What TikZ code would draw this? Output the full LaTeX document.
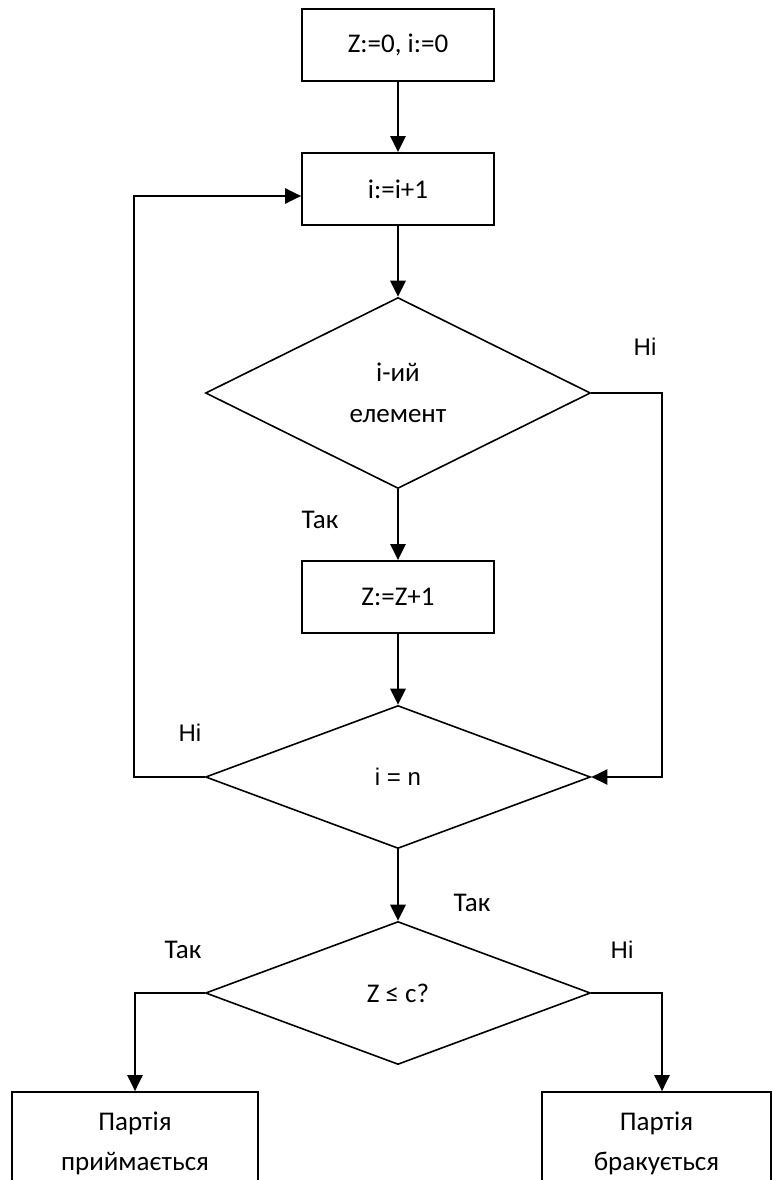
\documentclass[tikz,border=0pt]{standalone}
\usepackage{fontspec}
\setmainfont{Carlito}
\newfontfamily\arialfont{Liberation Sans}
\usetikzlibrary{shapes.geometric,arrows.meta}

\begin{document}
\begin{tikzpicture}[x=1pt, y=-1pt,
    block/.style={rectangle, draw=black, line width=1.7pt, minimum width=192pt, minimum height=72pt, inner sep=0pt, align=center, font=\fontsize{27}{40}\selectfont},
    cond/.style={diamond, draw=black, line width=1.6pt, minimum width=385pt, inner sep=0pt, align=center, font=\fontsize{27}{41}\selectfont},
    bus/.style={-{Triangle[length=16pt, width=15pt]}, line width=2.8pt},
    side/.style={-{Triangle[length=16pt, width=15pt]}, line width=2.2pt},
    labelnode/.style={font=\fontsize{27}{32}\selectfont, inner sep=0pt},
    labelni/.style={font=\arialfont\fontsize{24}{28}\selectfont, inner sep=0pt}
]
\clip (0,0) rectangle (773,1180);

% Main column (x = 398)
\node[block] (start) at (398, 45)  {Z:=0, i:=0};
\node[block] (inc)   at (398, 189) {i:=i+1};
\node[cond, minimum height=191pt] (check) at (398, 393) {і-ий\\елемент};
\node[block] (count) at (398, 597) {Z:=Z+1};
\node[cond, minimum height=143pt, font=\arialfont\fontsize{24}{28}\selectfont] (last) at (398, 777) {i = n};
\node[cond, minimum height=143pt] (limit) at (398, 993) {Z ≤ c?};

% Result boxes (bottom is cut by the page)
\node[block, minimum width=246pt, minimum height=102pt] (accept) at (135, 1143) {Партія\\приймається};
\node[block, minimum width=229pt, minimum height=102pt] (reject) at (656.5, 1143) {Партія\\бракується};

% Side rails
\coordinate (rside) at (662, 0);
\coordinate (loop)  at (134, 196);

% Branch labels
\node[labelni]   (niA)  at (645, 347) {Ні};
\node[labelnode] (takA) at (320, 520) {Так};
\node[labelni]   (niB)  at (190, 733) {Ні};
\node[labelnode] (takB) at (472, 903) {Так};
\node[labelnode] (takC) at (183, 950) {Так};
\node[labelni]   (niC)  at (622, 950) {Ні};

% Interconnections
\draw[bus] (start.south) -- (inc.north);
\draw[bus] (inc.south)   -- (check.north);
\draw[bus] (check.south) -- (count.north);
\draw[bus] (count.south) -- (last.north);
\draw[bus] (last.south)  -- (limit.north);

\draw[side] (check.east) -- (check.east -| rside) |- (last.east);
\draw[side] (last.west) -| (loop) -- (inc.west |- loop);

\draw[side] (limit.west) -| (accept.north);
\draw[side] (limit.east) -| (reject.north -| rside);

\end{tikzpicture}
\end{document}
